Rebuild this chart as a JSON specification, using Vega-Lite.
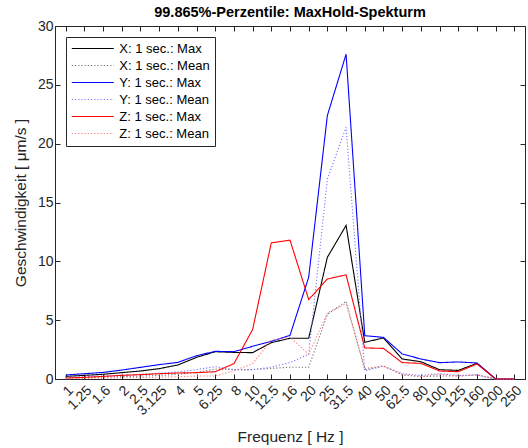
{
  "$schema": "https://vega.github.io/schema/vega-lite/v6.json",
  "autosize": "none",
  "width": 470,
  "height": 353,
  "padding": {"left": 55, "top": 26, "right": 3, "bottom": 69},
  "background": "white",
  "title": {
    "text": "99.865%-Perzentile: MaxHold-Spekturm",
    "font": "Liberation Sans",
    "fontSize": 14.5,
    "fontWeight": "bold",
    "color": "#000000",
    "anchor": "middle",
    "offset": -1
  },
  "data": {
    "values": [
      {"s": "X: 1 sec.: Max", "i": 1, "f": "1", "v": 0.22},
      {"s": "X: 1 sec.: Max", "i": 2, "f": "1.25", "v": 0.31},
      {"s": "X: 1 sec.: Max", "i": 3, "f": "1.6", "v": 0.40},
      {"s": "X: 1 sec.: Max", "i": 4, "f": "2", "v": 0.54},
      {"s": "X: 1 sec.: Max", "i": 5, "f": "2.5", "v": 0.68},
      {"s": "X: 1 sec.: Max", "i": 6, "f": "3.125", "v": 0.88},
      {"s": "X: 1 sec.: Max", "i": 7, "f": "4", "v": 1.19},
      {"s": "X: 1 sec.: Max", "i": 8, "f": "5", "v": 1.84},
      {"s": "X: 1 sec.: Max", "i": 9, "f": "6.25", "v": 2.32},
      {"s": "X: 1 sec.: Max", "i": 10, "f": "8", "v": 2.26},
      {"s": "X: 1 sec.: Max", "i": 11, "f": "10", "v": 2.24},
      {"s": "X: 1 sec.: Max", "i": 12, "f": "12.5", "v": 3.09},
      {"s": "X: 1 sec.: Max", "i": 13, "f": "16", "v": 3.46},
      {"s": "X: 1 sec.: Max", "i": 14, "f": "20", "v": 3.46},
      {"s": "X: 1 sec.: Max", "i": 15, "f": "25", "v": 10.35},
      {"s": "X: 1 sec.: Max", "i": 16, "f": "31.5", "v": 13.05},
      {"s": "X: 1 sec.: Max", "i": 17, "f": "40", "v": 3.12},
      {"s": "X: 1 sec.: Max", "i": 18, "f": "50", "v": 3.49},
      {"s": "X: 1 sec.: Max", "i": 19, "f": "62.5", "v": 1.70},
      {"s": "X: 1 sec.: Max", "i": 20, "f": "80", "v": 1.47},
      {"s": "X: 1 sec.: Max", "i": 21, "f": "100", "v": 0.79},
      {"s": "X: 1 sec.: Max", "i": 22, "f": "125", "v": 0.73},
      {"s": "X: 1 sec.: Max", "i": 23, "f": "160", "v": 1.33},
      {"s": "X: 1 sec.: Max", "i": 24, "f": "200", "v": 0},
      {"s": "X: 1 sec.: Max", "i": 25, "f": "250", "v": 0},

      {"s": "X: 1 sec.: Mean", "i": 1, "f": "1", "v": 0.10},
      {"s": "X: 1 sec.: Mean", "i": 2, "f": "1.25", "v": 0.12},
      {"s": "X: 1 sec.: Mean", "i": 3, "f": "1.6", "v": 0.15},
      {"s": "X: 1 sec.: Mean", "i": 4, "f": "2", "v": 0.20},
      {"s": "X: 1 sec.: Mean", "i": 5, "f": "2.5", "v": 0.25},
      {"s": "X: 1 sec.: Mean", "i": 6, "f": "3.125", "v": 0.30},
      {"s": "X: 1 sec.: Mean", "i": 7, "f": "4", "v": 0.40},
      {"s": "X: 1 sec.: Mean", "i": 8, "f": "5", "v": 0.55},
      {"s": "X: 1 sec.: Mean", "i": 9, "f": "6.25", "v": 0.85},
      {"s": "X: 1 sec.: Mean", "i": 10, "f": "8", "v": 0.80},
      {"s": "X: 1 sec.: Mean", "i": 11, "f": "10", "v": 0.80},
      {"s": "X: 1 sec.: Mean", "i": 12, "f": "12.5", "v": 0.90},
      {"s": "X: 1 sec.: Mean", "i": 13, "f": "16", "v": 1.00},
      {"s": "X: 1 sec.: Mean", "i": 14, "f": "20", "v": 1.00},
      {"s": "X: 1 sec.: Mean", "i": 15, "f": "25", "v": 5.50},
      {"s": "X: 1 sec.: Mean", "i": 16, "f": "31.5", "v": 6.60},
      {"s": "X: 1 sec.: Mean", "i": 17, "f": "40", "v": 0.80},
      {"s": "X: 1 sec.: Mean", "i": 18, "f": "50", "v": 1.10},
      {"s": "X: 1 sec.: Mean", "i": 19, "f": "62.5", "v": 0.35},
      {"s": "X: 1 sec.: Mean", "i": 20, "f": "80", "v": 0.20},
      {"s": "X: 1 sec.: Mean", "i": 21, "f": "100", "v": 0.25},
      {"s": "X: 1 sec.: Mean", "i": 22, "f": "125", "v": 0.25},
      {"s": "X: 1 sec.: Mean", "i": 23, "f": "160", "v": 0.35},
      {"s": "X: 1 sec.: Mean", "i": 24, "f": "200", "v": 0},
      {"s": "X: 1 sec.: Mean", "i": 25, "f": "250", "v": 0},

      {"s": "Y: 1 sec.: Max", "i": 1, "f": "1", "v": 0.34},
      {"s": "Y: 1 sec.: Max", "i": 2, "f": "1.25", "v": 0.45},
      {"s": "Y: 1 sec.: Max", "i": 3, "f": "1.6", "v": 0.56},
      {"s": "Y: 1 sec.: Max", "i": 4, "f": "2", "v": 0.76},
      {"s": "Y: 1 sec.: Max", "i": 5, "f": "2.5", "v": 0.99},
      {"s": "Y: 1 sec.: Max", "i": 6, "f": "3.125", "v": 1.22},
      {"s": "Y: 1 sec.: Max", "i": 7, "f": "4", "v": 1.41},
      {"s": "Y: 1 sec.: Max", "i": 8, "f": "5", "v": 1.98},
      {"s": "Y: 1 sec.: Max", "i": 9, "f": "6.25", "v": 2.35},
      {"s": "Y: 1 sec.: Max", "i": 10, "f": "8", "v": 2.32},
      {"s": "Y: 1 sec.: Max", "i": 11, "f": "10", "v": 2.78},
      {"s": "Y: 1 sec.: Max", "i": 12, "f": "12.5", "v": 3.20},
      {"s": "Y: 1 sec.: Max", "i": 13, "f": "16", "v": 3.71},
      {"s": "Y: 1 sec.: Max", "i": 14, "f": "20", "v": 8.65},
      {"s": "Y: 1 sec.: Max", "i": 15, "f": "25", "v": 22.4},
      {"s": "Y: 1 sec.: Max", "i": 16, "f": "31.5", "v": 27.6},
      {"s": "Y: 1 sec.: Max", "i": 17, "f": "40", "v": 3.68},
      {"s": "Y: 1 sec.: Max", "i": 18, "f": "50", "v": 3.54},
      {"s": "Y: 1 sec.: Max", "i": 19, "f": "62.5", "v": 2.13},
      {"s": "Y: 1 sec.: Max", "i": 20, "f": "80", "v": 1.70},
      {"s": "Y: 1 sec.: Max", "i": 21, "f": "100", "v": 1.39},
      {"s": "Y: 1 sec.: Max", "i": 22, "f": "125", "v": 1.45},
      {"s": "Y: 1 sec.: Max", "i": 23, "f": "160", "v": 1.36},
      {"s": "Y: 1 sec.: Max", "i": 24, "f": "200", "v": 0},
      {"s": "Y: 1 sec.: Max", "i": 25, "f": "250", "v": 0},

      {"s": "Y: 1 sec.: Mean", "i": 1, "f": "1", "v": 0.15},
      {"s": "Y: 1 sec.: Mean", "i": 2, "f": "1.25", "v": 0.20},
      {"s": "Y: 1 sec.: Mean", "i": 3, "f": "1.6", "v": 0.25},
      {"s": "Y: 1 sec.: Mean", "i": 4, "f": "2", "v": 0.30},
      {"s": "Y: 1 sec.: Mean", "i": 5, "f": "2.5", "v": 0.40},
      {"s": "Y: 1 sec.: Mean", "i": 6, "f": "3.125", "v": 0.50},
      {"s": "Y: 1 sec.: Mean", "i": 7, "f": "4", "v": 0.60},
      {"s": "Y: 1 sec.: Mean", "i": 8, "f": "5", "v": 0.80},
      {"s": "Y: 1 sec.: Mean", "i": 9, "f": "6.25", "v": 1.05},
      {"s": "Y: 1 sec.: Mean", "i": 10, "f": "8", "v": 0.80},
      {"s": "Y: 1 sec.: Mean", "i": 11, "f": "10", "v": 0.80},
      {"s": "Y: 1 sec.: Mean", "i": 12, "f": "12.5", "v": 1.00},
      {"s": "Y: 1 sec.: Mean", "i": 13, "f": "16", "v": 1.40},
      {"s": "Y: 1 sec.: Mean", "i": 14, "f": "20", "v": 2.10},
      {"s": "Y: 1 sec.: Mean", "i": 15, "f": "25", "v": 17.0},
      {"s": "Y: 1 sec.: Mean", "i": 16, "f": "31.5", "v": 21.4},
      {"s": "Y: 1 sec.: Mean", "i": 17, "f": "40", "v": 0.70},
      {"s": "Y: 1 sec.: Mean", "i": 18, "f": "50", "v": 1.10},
      {"s": "Y: 1 sec.: Mean", "i": 19, "f": "62.5", "v": 0.45},
      {"s": "Y: 1 sec.: Mean", "i": 20, "f": "80", "v": 0.30},
      {"s": "Y: 1 sec.: Mean", "i": 21, "f": "100", "v": 0.45},
      {"s": "Y: 1 sec.: Mean", "i": 22, "f": "125", "v": 0.30},
      {"s": "Y: 1 sec.: Mean", "i": 23, "f": "160", "v": 0.35},
      {"s": "Y: 1 sec.: Mean", "i": 24, "f": "200", "v": 0},
      {"s": "Y: 1 sec.: Mean", "i": 25, "f": "250", "v": 0},

      {"s": "Z: 1 sec.: Max", "i": 1, "f": "1", "v": 0.08},
      {"s": "Z: 1 sec.: Max", "i": 2, "f": "1.25", "v": 0.14},
      {"s": "Z: 1 sec.: Max", "i": 3, "f": "1.6", "v": 0.22},
      {"s": "Z: 1 sec.: Max", "i": 4, "f": "2", "v": 0.31},
      {"s": "Z: 1 sec.: Max", "i": 5, "f": "2.5", "v": 0.37},
      {"s": "Z: 1 sec.: Max", "i": 6, "f": "3.125", "v": 0.45},
      {"s": "Z: 1 sec.: Max", "i": 7, "f": "4", "v": 0.51},
      {"s": "Z: 1 sec.: Max", "i": 8, "f": "5", "v": 0.54},
      {"s": "Z: 1 sec.: Max", "i": 9, "f": "6.25", "v": 0.62},
      {"s": "Z: 1 sec.: Max", "i": 10, "f": "8", "v": 1.30},
      {"s": "Z: 1 sec.: Max", "i": 11, "f": "10", "v": 4.20},
      {"s": "Z: 1 sec.: Max", "i": 12, "f": "12.5", "v": 11.57},
      {"s": "Z: 1 sec.: Max", "i": 13, "f": "16", "v": 11.80},
      {"s": "Z: 1 sec.: Max", "i": 14, "f": "20", "v": 6.75},
      {"s": "Z: 1 sec.: Max", "i": 15, "f": "25", "v": 8.50},
      {"s": "Z: 1 sec.: Max", "i": 16, "f": "31.5", "v": 8.85},
      {"s": "Z: 1 sec.: Max", "i": 17, "f": "40", "v": 2.64},
      {"s": "Z: 1 sec.: Max", "i": 18, "f": "50", "v": 2.60},
      {"s": "Z: 1 sec.: Max", "i": 19, "f": "62.5", "v": 1.39},
      {"s": "Z: 1 sec.: Max", "i": 20, "f": "80", "v": 1.33},
      {"s": "Z: 1 sec.: Max", "i": 21, "f": "100", "v": 0.68},
      {"s": "Z: 1 sec.: Max", "i": 22, "f": "125", "v": 0.62},
      {"s": "Z: 1 sec.: Max", "i": 23, "f": "160", "v": 1.28},
      {"s": "Z: 1 sec.: Max", "i": 24, "f": "200", "v": 0},
      {"s": "Z: 1 sec.: Max", "i": 25, "f": "250", "v": 0},

      {"s": "Z: 1 sec.: Mean", "i": 1, "f": "1", "v": 0.03},
      {"s": "Z: 1 sec.: Mean", "i": 2, "f": "1.25", "v": 0.05},
      {"s": "Z: 1 sec.: Mean", "i": 3, "f": "1.6", "v": 0.08},
      {"s": "Z: 1 sec.: Mean", "i": 4, "f": "2", "v": 0.10},
      {"s": "Z: 1 sec.: Mean", "i": 5, "f": "2.5", "v": 0.12},
      {"s": "Z: 1 sec.: Mean", "i": 6, "f": "3.125", "v": 0.15},
      {"s": "Z: 1 sec.: Mean", "i": 7, "f": "4", "v": 0.20},
      {"s": "Z: 1 sec.: Mean", "i": 8, "f": "5", "v": 0.25},
      {"s": "Z: 1 sec.: Mean", "i": 9, "f": "6.25", "v": 0.25},
      {"s": "Z: 1 sec.: Mean", "i": 10, "f": "8", "v": 0.70},
      {"s": "Z: 1 sec.: Mean", "i": 11, "f": "10", "v": 1.30},
      {"s": "Z: 1 sec.: Mean", "i": 12, "f": "12.5", "v": 3.30},
      {"s": "Z: 1 sec.: Mean", "i": 13, "f": "16", "v": 3.55},
      {"s": "Z: 1 sec.: Mean", "i": 14, "f": "20", "v": 2.10},
      {"s": "Z: 1 sec.: Mean", "i": 15, "f": "25", "v": 5.60},
      {"s": "Z: 1 sec.: Mean", "i": 16, "f": "31.5", "v": 6.40},
      {"s": "Z: 1 sec.: Mean", "i": 17, "f": "40", "v": 0.90},
      {"s": "Z: 1 sec.: Mean", "i": 18, "f": "50", "v": 1.10},
      {"s": "Z: 1 sec.: Mean", "i": 19, "f": "62.5", "v": 0.40},
      {"s": "Z: 1 sec.: Mean", "i": 20, "f": "80", "v": 0.20},
      {"s": "Z: 1 sec.: Mean", "i": 21, "f": "100", "v": 0.40},
      {"s": "Z: 1 sec.: Mean", "i": 22, "f": "125", "v": 0.25},
      {"s": "Z: 1 sec.: Mean", "i": 23, "f": "160", "v": 0.35},
      {"s": "Z: 1 sec.: Mean", "i": 24, "f": "200", "v": 0},
      {"s": "Z: 1 sec.: Mean", "i": 25, "f": "250", "v": 0}
    ]
  },
  "layer": [
    {
      "mark": {"type": "line", "strokeWidth": 1.1},
      "encoding": {
        "x": {
          "field": "f",
          "type": "ordinal",
          "sort": null,
          "scale": {"type": "point", "padding": 0.57},
          "axis": {
            "title": "Frequenz [ Hz ]",
            "labelAngle": -45,
            "labelPadding": 9,
            "titlePadding": 12
          }
        },
        "y": {
          "field": "v",
          "type": "quantitative",
          "scale": {"domain": [0, 30], "nice": false},
          "axis": {
            "title": "Geschwindigkeit [ μm/s ]",
            "values": [0, 5, 10, 15, 20, 25, 30],
            "labelPadding": 7,
            "titlePadding": 9
          }
        },
        "color": {
          "field": "s",
          "type": "nominal",
          "scale": {
            "domain": ["X: 1 sec.: Max", "X: 1 sec.: Mean", "Y: 1 sec.: Max", "Y: 1 sec.: Mean", "Z: 1 sec.: Max", "Z: 1 sec.: Mean"],
            "range": ["#000000", "#707070", "#0000ff", "#7777ff", "#ff0000", "#ff7777"]
          },
          "legend": {"title": null}
        },
        "strokeDash": {
          "field": "s",
          "type": "nominal",
          "scale": {
            "domain": ["X: 1 sec.: Max", "X: 1 sec.: Mean", "Y: 1 sec.: Max", "Y: 1 sec.: Mean", "Z: 1 sec.: Max", "Z: 1 sec.: Mean"],
            "range": [[1, 0], [1.2, 2], [1, 0], [1.2, 2], [1, 0], [1.2, 2]]
          },
          "legend": {"title": null}
        },
        "order": {"field": "i", "type": "quantitative"}
      }
    },
    {
      "mark": {"type": "point", "opacity": 0},
      "encoding": {
        "x": {
          "field": "f",
          "type": "ordinal",
          "sort": null,
          "axis": {"orient": "top", "labels": false, "title": null, "domain": false}
        },
        "y": {
          "field": "v",
          "type": "quantitative",
          "axis": {"orient": "right", "labels": false, "title": null, "domain": false, "values": [0, 5, 10, 15, 20, 25, 30]}
        }
      }
    }
  ],
  "resolve": {"axis": {"x": "independent", "y": "independent"}},
  "config": {
    "view": {"stroke": "#262626", "strokeWidth": 1},
    "font": "Liberation Sans",
    "axis": {
      "grid": false,
      "domainColor": "#262626",
      "tickColor": "#262626",
      "tickSize": -5,
      "labelColor": "#262626",
      "titleColor": "#262626",
      "labelFont": "Liberation Sans",
      "labelFontSize": 14,
      "titleFont": "Liberation Sans",
      "titleFontSize": 15.5,
      "titleFontWeight": "normal"
    },
    "legend": {
      "orient": "top-left",
      "offset": 11,
      "strokeColor": "#262626",
      "fillColor": "white",
      "padding": 5,
      "labelFont": "Liberation Sans",
      "labelFontSize": 13,
      "labelColor": "#000000",
      "labelOffset": 20,
      "symbolType": "M-4.2,0H4.2",
      "symbolSize": 100,
      "symbolOffset": 15.3,
      "symbolStrokeWidth": 1.1,
      "rowPadding": 3,
      "cornerRadius": 0
    }
  }
}
